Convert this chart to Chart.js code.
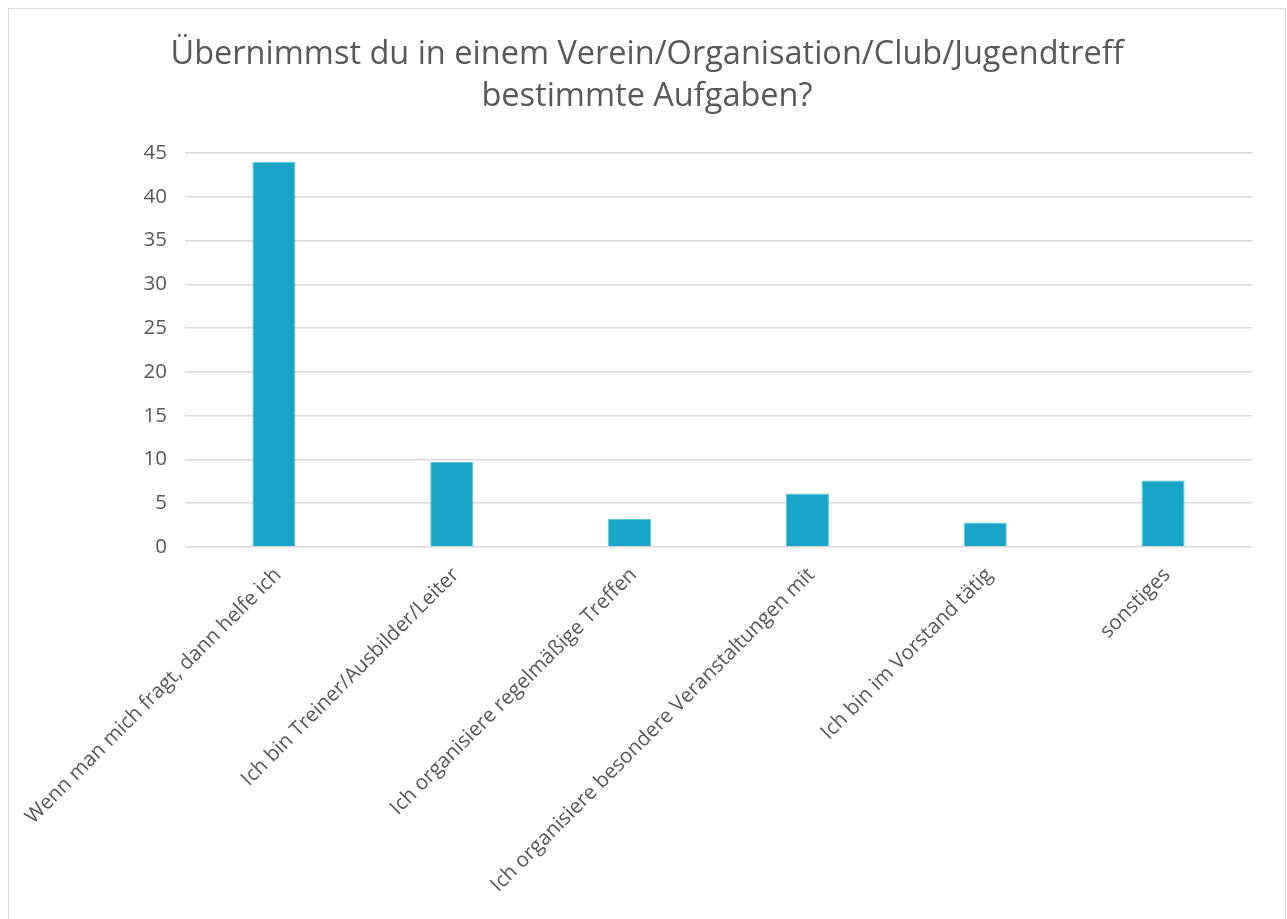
<!DOCTYPE html>
<html><head><meta charset="utf-8">
<script src="https://cdn.jsdelivr.net/npm/chart.js@4.4.0/dist/chart.umd.min.js"></script>
<style>
html,body{margin:0;padding:0;background:#fff;overflow:hidden;width:1287px;height:919px;}
#frame{position:absolute;left:8px;top:8px;width:1278px;height:940px;border:1px solid #d9d9d9;box-sizing:border-box;}
canvas{position:absolute;left:0;top:0;}
</style></head><body>
<div id="frame"></div>
<canvas id="c" width="1287" height="919"></canvas>
<script>
const titleLines = ["Übernimmst du in einem Verein/Organisation/Club/Jugendtreff", "bestimmte Aufgaben?"];
const categories = [
  "Wenn man mich fragt, dann helfe ich",
  "Ich bin Treiner/Ausbilder/Leiter",
  "Ich organisiere regelmäßige Treffen",
  "Ich organisiere besondere Veranstaltungen mit",
  "Ich bin im Vorstand tätig",
  "sonstiges"
];
const values = [44, 9.7, 3.2, 6.1, 2.8, 7.6];
const yMin = 0, yMax = 45, yStep = 5;

const textColor = '#595959';
const fontFamily = "'Open Sans', 'Segoe UI', sans-serif";

new Chart(document.getElementById('c'), {
  type: 'bar',
  data: {
    labels: categories,
    datasets: [{
      data: values,
      backgroundColor: '#17A6C8',
      borderColor: '#5BC3DC',
      borderWidth: 1,
      barPercentage: 0.242,
      categoryPercentage: 1
    }]
  },
  options: {
    responsive: false,
    animation: false,
    devicePixelRatio: 1,
    layout: { padding: { top: 34, left: 42, right: 35, bottom: 0 } },
    plugins: {
      legend: { display: false },
      tooltip: { enabled: false },
      title: {
        display: true,
        text: titleLines,
        color: textColor,
        font: { family: fontFamily, size: 32.5, weight: 'normal', lineHeight: '42px' },
        padding: { top: 0, bottom: 35 }
      }
    },
    scales: {
      x: {
        grid: { display: false },
        border: { display: false },
        ticks: {
          color: textColor,
          font: { family: fontFamily, size: 20.5 },
          minRotation: 45, maxRotation: 45,
          autoSkip: false,
          padding: 8,
          labelOffset: 4
        },
        afterFit(s) { s.height = 372; s.paddingLeft = 0; s.paddingRight = 0; }
      },
      y: {
        min: yMin, max: yMax,
        ticks: {
          stepSize: yStep,
          color: textColor,
          font: { family: fontFamily, size: 20.5 },
          padding: 18
        },
        grid: { color: '#d9d9d9', lineWidth: 1.5, drawTicks: false },
        border: { display: false },
        afterFit(s) { s.width = 143; s.paddingTop = 0; s.paddingBottom = 0; }
      }
    }
  }
});
</script>
</body></html>
